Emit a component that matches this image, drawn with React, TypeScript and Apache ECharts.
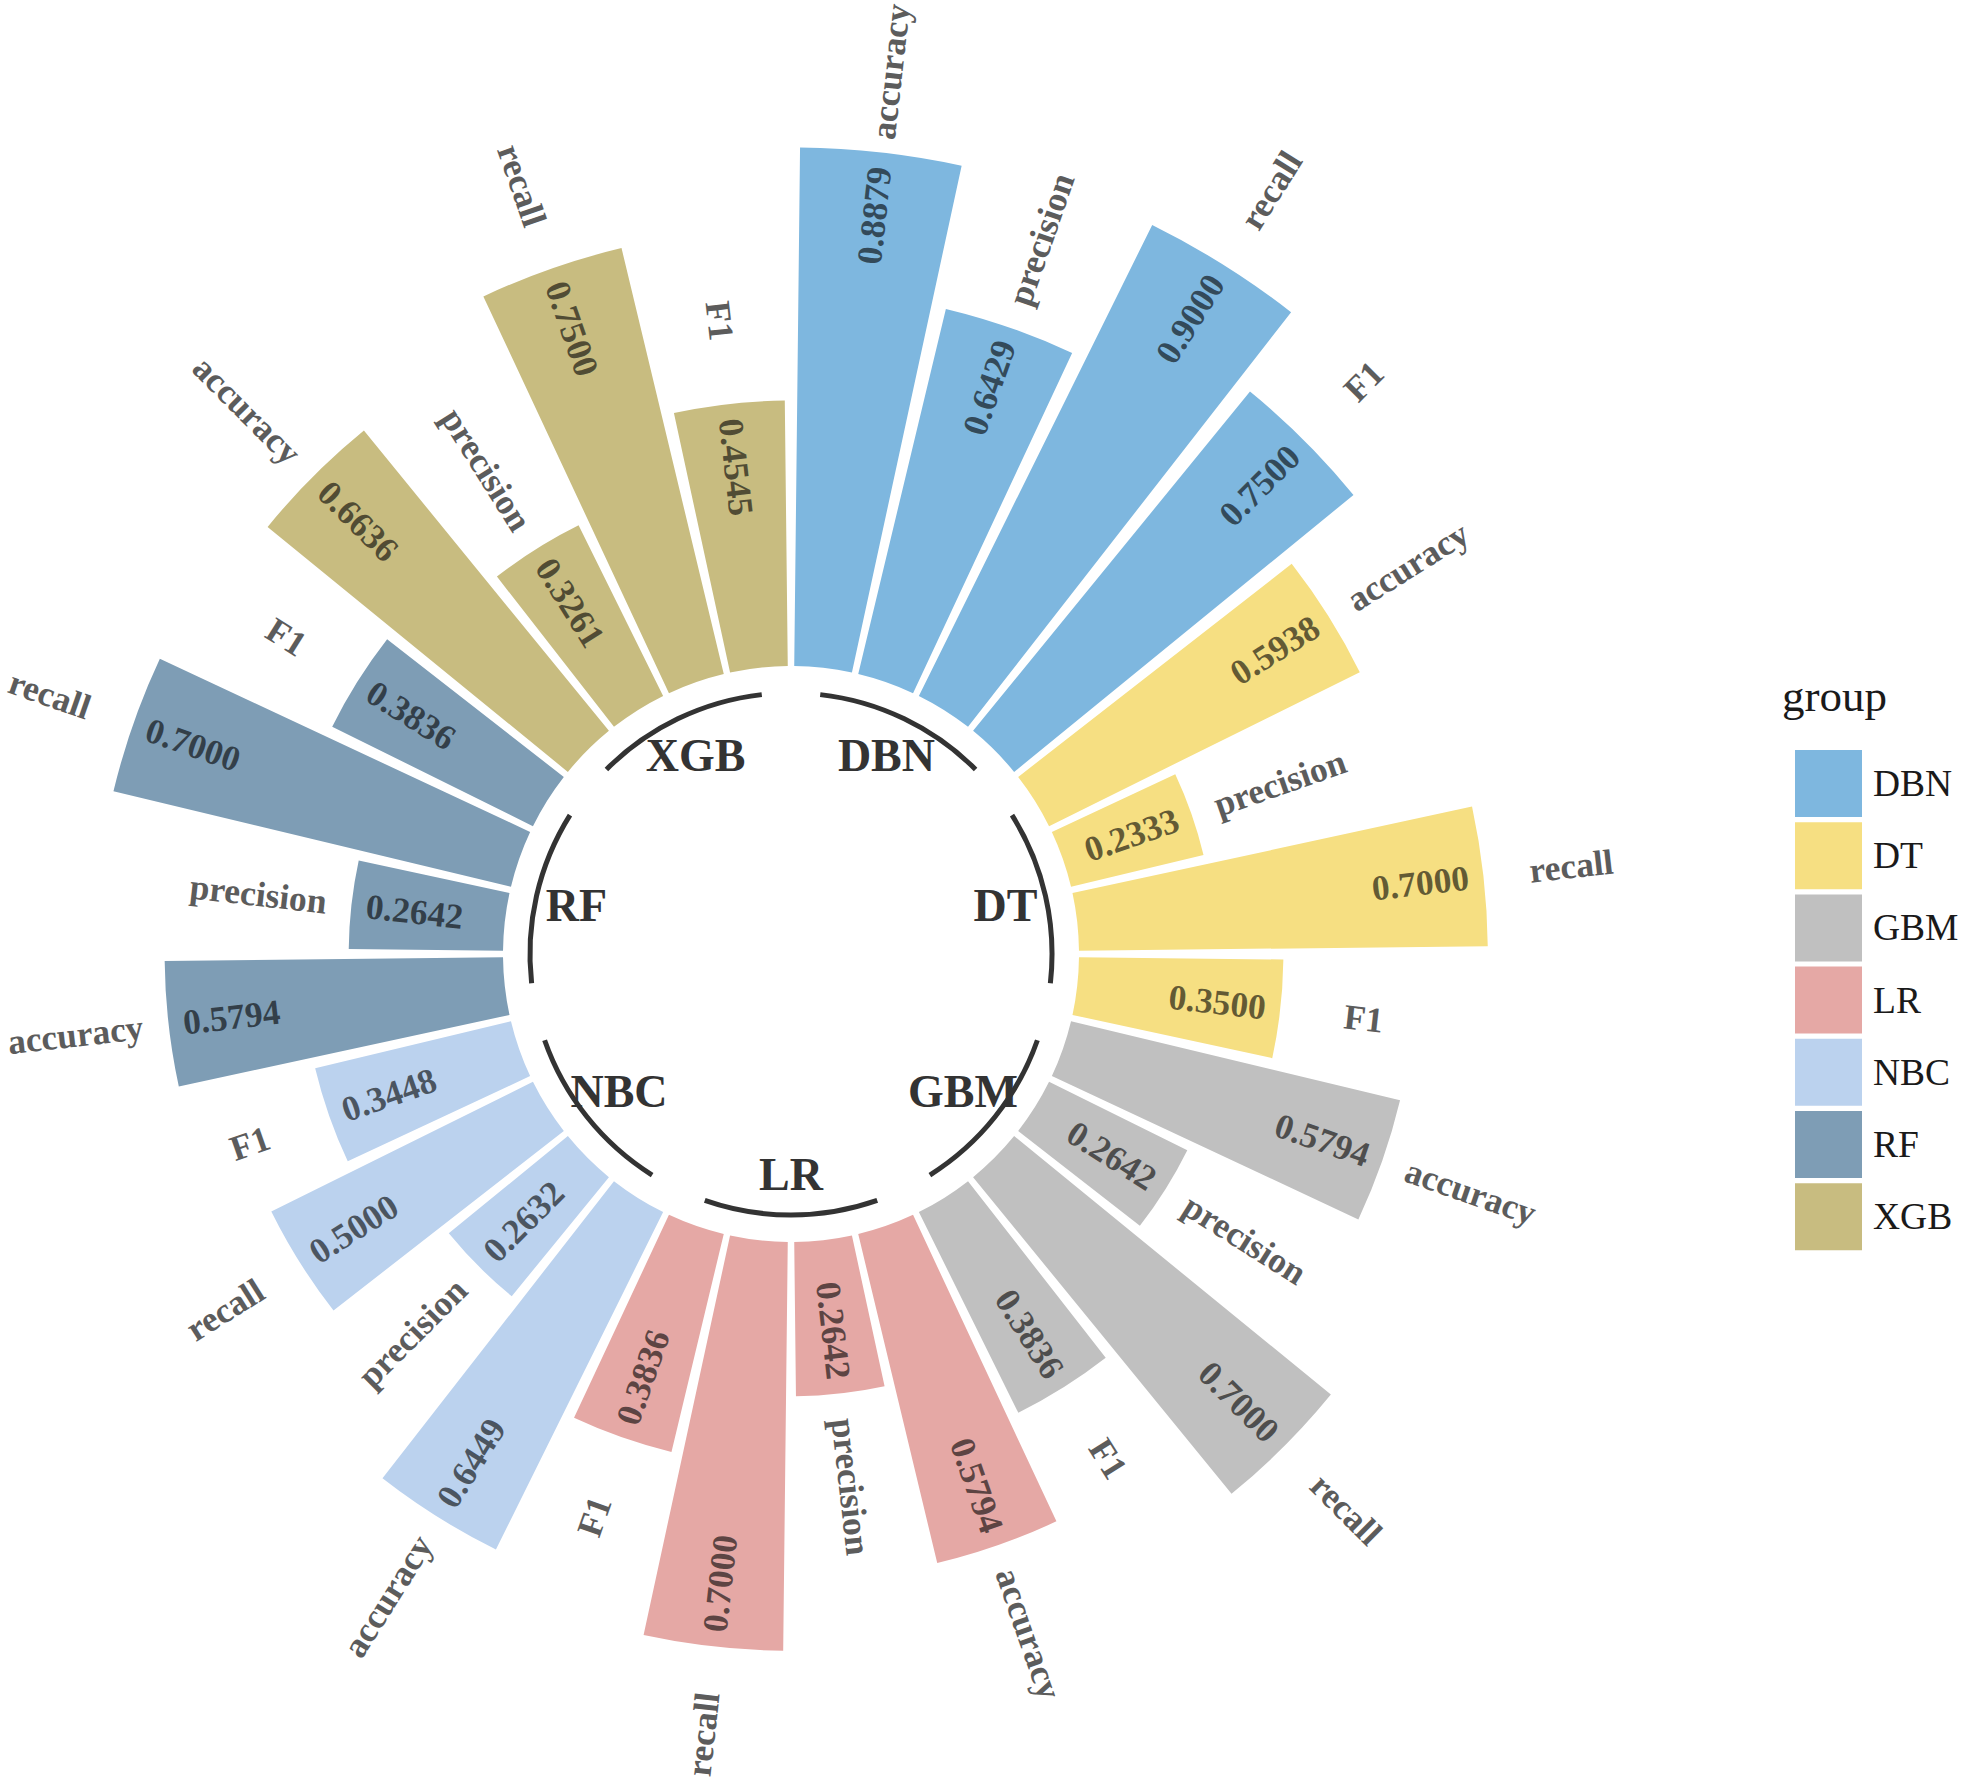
import React, { useEffect, useRef } from "react";
import * as echarts from "echarts";

const groups = ["DBN", "DT", "GBM", "LR", "NBC", "RF", "XGB"];
const metrics = ["accuracy", "precision", "recall", "F1"];

const dbnValues = [0.8879, 0.6429, 0.9, 0.75];
const dtValues = [0.5938, 0.2333, 0.7, 0.35];
const gbmValues = [0.5794, 0.2642, 0.7, 0.3836];
const lrValues = [0.5794, 0.2642, 0.7, 0.3836];
const nbcValues = [0.6449, 0.2632, 0.5, 0.3448];
const rfValues = [0.5794, 0.2642, 0.7, 0.3836];
const xgbValues = [0.6636, 0.3261, 0.75, 0.4545];

const groupValues = [dbnValues, dtValues, gbmValues, lrValues, nbcValues, rfValues, xgbValues];
const groupColors = ["#7EB7DF", "#F6DF82", "#C0C0C0", "#E5A8A5", "#BBD2EE", "#7E9DB5", "#C8BC80"];

const SERIF = '"Liberation Serif", "Times New Roman", serif';
const LABEL_SIZE = 35.5;

export default function App() {
  const ref = useRef<HTMLDivElement>(null);

  useEffect(() => {
    document.body.style.margin = "0";
    const chart = echarts.init(ref.current as HTMLDivElement, null, { renderer: "svg" });

    const measureCtx = document.createElement("canvas").getContext("2d") as CanvasRenderingContext2D;
    measureCtx.font = "bold " + LABEL_SIZE + "px " + SERIF;
    const textWidth = (t: string) => measureCtx.measureText(t).width;

    const cats: string[] = [];
    groups.forEach((g) => metrics.forEach((m) => cats.push(g + "-" + m)));

    const barSeries = groups.map((g, gi) => ({
      type: "bar",
      name: g,
      coordinateSystem: "polar",
      stack: "all",
      barCategoryGap: "10%",
      silent: true,
      itemStyle: { color: groupColors[gi] },
      data: cats.map((_, i) => (Math.floor(i / 4) === gi ? groupValues[gi][i % 4] : "-")),
    }));

    const labelData = cats.map((_, i) => [groupValues[Math.floor(i / 4)][i % 4], i, i % 4]);

    const labelSeries = {
      type: "custom",
      coordinateSystem: "polar",
      silent: true,
      z: 5,
      data: labelData,
      renderItem: (params: any, api: any) => {
        const v = api.value(0);
        const idx = api.value(1);
        const mi = api.value(2);
        const cx = params.coordSys.cx;
        const cy = params.coordSys.cy;
        const W = api.getWidth();
        const H = api.getHeight();
        const pEnd = api.coord([v, idx]);
        const phi = Math.atan2(pEnd[1] - cy, pEnd[0] - cx);
        const cosP = Math.cos(phi);
        const sinP = Math.sin(phi);
        const right = pEnd[0] > cx;
        const rot = right ? -phi : -phi - Math.PI;
        const pv = api.coord([v - 0.025, idx]);
        // metric label: anchored beyond the bar end (hjust 0.4), kept inside the canvas
        const pm = api.coord([v + 0.137, idx]);
        const name = metrics[mi];
        const w = textWidth(name);
        let rc = Math.hypot(pm[0] - cx, pm[1] - cy) + 0.1 * w;
        let rMax = Infinity;
        if (sinP < 0) rMax = Math.min(rMax, (cy - 4) / -sinP);
        if (sinP > 0) rMax = Math.min(rMax, (H - 4 - cy) / sinP);
        if (cosP < 0) rMax = Math.min(rMax, (cx - 4) / -cosP);
        if (cosP > 0) rMax = Math.min(rMax, (W - 4 - cx) / cosP);
        rc = Math.min(rc, rMax - w / 2);
        return {
          type: "group",
          children: [
            {
              type: "text",
              x: pv[0],
              y: pv[1],
              rotation: rot,
              style: {
                text: v.toFixed(4),
                fill: "rgba(0,0,0,0.6)",
                fontFamily: SERIF,
                fontWeight: "bold",
                fontSize: LABEL_SIZE,
                align: right ? "right" : "left",
                verticalAlign: "middle",
              },
            },
            {
              type: "text",
              x: cx + rc * cosP,
              y: cy + rc * sinP,
              rotation: rot,
              style: {
                text: name,
                fill: "#5c5c5c",
                fontFamily: SERIF,
                fontWeight: "bold",
                fontSize: LABEL_SIZE,
                align: "center",
                verticalAlign: "middle",
              },
            },
          ],
        };
      },
    };

    const ARC_V = -0.0462;
    const GROUP_LABEL_V = -0.1164;
    const groupData = groups.map((_, gi) => [ARC_V, gi * 4, gi * 4 + 3, gi]);

    const groupSeries = {
      type: "custom",
      coordinateSystem: "polar",
      silent: true,
      z: 5,
      data: groupData,
      renderItem: (params: any, api: any) => {
        const a = api.value(1);
        const b = api.value(2);
        const gi = api.value(3);
        const cx = params.coordSys.cx;
        const cy = params.coordSys.cy;
        const p1 = api.coord([ARC_V, a]);
        const p2 = api.coord([ARC_V, b]);
        const r = Math.hypot(p1[0] - cx, p1[1] - cy);
        const s = Math.atan2(p1[1] - cy, p1[0] - cx);
        let e = Math.atan2(p2[1] - cy, p2[0] - cx);
        if (e < s) e += Math.PI * 2;
        const mid = (s + e) / 2;
        const lp = api.coord([GROUP_LABEL_V, a]);
        const lr = Math.hypot(lp[0] - cx, lp[1] - cy);
        return {
          type: "group",
          children: [
            {
              type: "arc",
              shape: { cx, cy, r, startAngle: s, endAngle: e, clockwise: true },
              style: { stroke: "#333333", lineWidth: 5, fill: null },
            },
            {
              type: "text",
              x: cx + lr * Math.cos(mid),
              y: cy + lr * Math.sin(mid),
              style: {
                text: groups[gi],
                fill: "#333333",
                fontFamily: SERIF,
                fontWeight: "bold",
                fontSize: 46,
                align: "center",
                verticalAlign: "middle",
              },
            },
          ],
        };
      },
    };

    chart.setOption({
      animation: false,
      backgroundColor: "#ffffff",
      polar: { center: [791, 954], radius: [288, 872] },
      angleAxis: {
        type: "category",
        data: cats,
        startAngle: 90,
        clockwise: true,
        boundaryGap: true,
        show: false,
      },
      radiusAxis: { type: "value", min: 0, max: 1, show: false },
      legend: {
        orient: "vertical",
        left: 1795,
        top: 750,
        padding: 0,
        itemWidth: 67,
        itemHeight: 67,
        itemGap: 5.2,
        icon: "rect",
        selectedMode: false,
        data: groups,
        textStyle: {
          fontFamily: SERIF,
          fontSize: 37.5,
          color: "#1a1a1a",
          padding: [0, 0, 25, 6],
        },
      },
      graphic: [
        {
          type: "text",
          x: 1782,
          y: 696,
          style: {
            text: "group",
            fill: "#1a1a1a",
            fontFamily: SERIF,
            fontSize: 45,
            align: "left",
            verticalAlign: "middle",
          },
        },
      ],
      series: [...barSeries, labelSeries, groupSeries],
    });

    return () => {
      chart.dispose();
    };
  }, []);

  return <div ref={ref} style={{ width: 1961, height: 1786, position: "absolute", left: 0, top: 0 }} />;
}
